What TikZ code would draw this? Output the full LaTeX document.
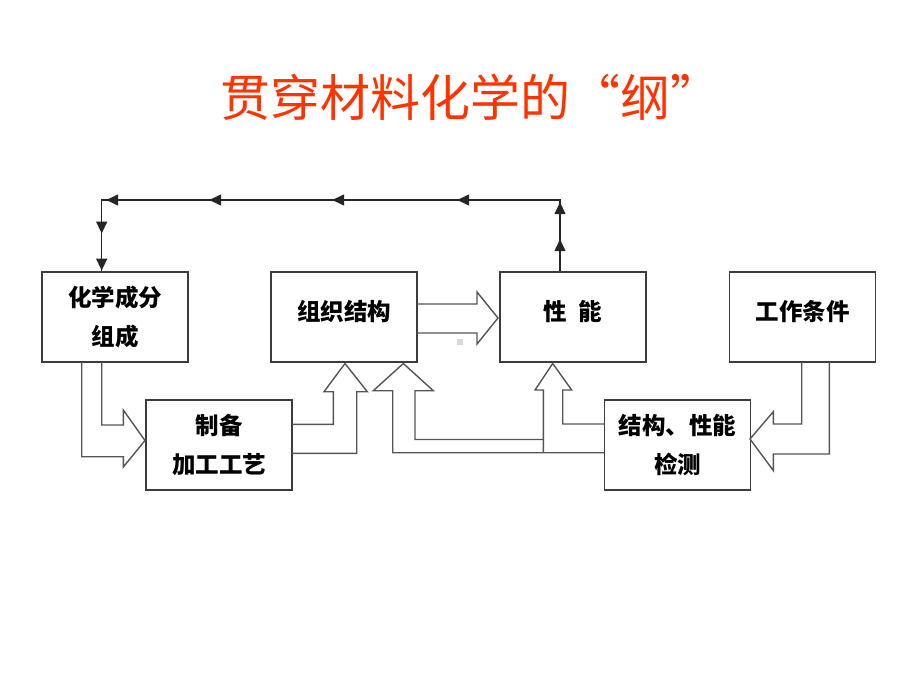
\documentclass[tikz,border=0pt]{standalone}
\usepackage{fontspec}
\setmainfont{Noto Sans CJK SC}
\usetikzlibrary{arrows.meta,decorations.markings}
\definecolor{titlered}{RGB}{255,51,0}
\definecolor{linegray}{RGB}{60,60,60}
\definecolor{fatgray}{RGB}{85,85,85}
\begin{document}
\begin{tikzpicture}[x=1pt,y=-1pt,
  box/.style={draw=linegray,line width=1.6pt,minimum width=146pt,minimum height=90pt,
    inner sep=0pt,align=center,font=\fontsize{23.5}{38.5}\selectfont\bfseries},
  oneline/.style={text depth=13pt},
  fat/.style={draw=fatgray,line width=1.4pt,line join=miter},
  ftip/.tip={Triangle[length=12pt,width=11pt]},
  feed/.style={draw=black!85,line width=1.4pt,postaction={decorate},
    decoration={markings,
      mark=at position 32pt with {\arrow{ftip}},
      mark=at position 69pt with {\arrow{ftip}},
      mark=at position 174pt with {\arrow{ftip}},
      mark=at position 299pt with {\arrow{ftip}},
      mark=at position 422pt with {\arrow{ftip}},
      mark=at position 525pt with {\arrow{ftip}},
      mark=at position 563pt with {\arrow{ftip}},
      mark=at position 600pt with {\arrow{ftip}}}},
  ]
\path[use as bounding box,fill=white] (0,0) rectangle (920,690);

\node[font=\fontsize{50}{60}\selectfont,text=titlered] (title) at (470,97) {贯穿材料化学的“纲”};

\node[box] (cf) at (115,317) {化学成分\\组成};
\node[box,oneline] (zz) at (344,317) {组织结构};
\node[box,oneline] (xn) at (573,317) {性\hspace{0.5em}能};
\node[box,oneline] (gz) at (802.5,317) {工作条件};
\node[box] (zb) at (219,445) {制备\\加工工艺};
\node[box] (jc) at (677.5,445) {结构、性能\\检测};

% feedback loop
\coordinate (fr) at (560,200);
\coordinate (fl) at (101.7,200);
\draw[feed] (fr |- xn.north) -- (fr) -- (fl) -- (fl |- cf.north);

% fat arrows
\draw[fat] (81.7,362) -- (81.7,456.7) -- (123.3,456.7) -- (123.3,467) -- (145,440.5)
  -- (123.3,410) -- (123.3,425) -- (101.7,425) -- (101.7,362);
\draw[fat] (292,424.3) -- (333.3,424.3) -- (333.3,391.7) -- (324,391.7) -- (345,363.5)
  -- (367.3,391.7) -- (356.7,391.7) -- (356.7,453.3) -- (292,453.3);
\draw[fat] (417,304) -- (477,304) -- (477,292) -- (498,318) -- (477,344) -- (477,333) -- (417,333);
\draw[fat] (605,452.7) -- (392.7,452.7) -- (392.7,390.7) -- (373.3,390.7) -- (403.3,363.5)
  -- (433.3,390.7) -- (415,390.7) -- (415,439.5) -- (543.3,439.5);
\draw[fat] (543.3,452.7) -- (543.3,390) -- (535,390) -- (552.7,363.5) -- (571.7,390)
  -- (562.7,390) -- (562.7,424) -- (605,424);
\draw[fat] (801.7,362) -- (801.7,424) -- (773.3,424) -- (773.3,411.7) -- (750,439)
  -- (773.3,470.5) -- (773.3,454) -- (829.3,454) -- (829.3,362);

\fill[gray!30] (457,339) rectangle (463,345);
\end{tikzpicture}
\end{document}
